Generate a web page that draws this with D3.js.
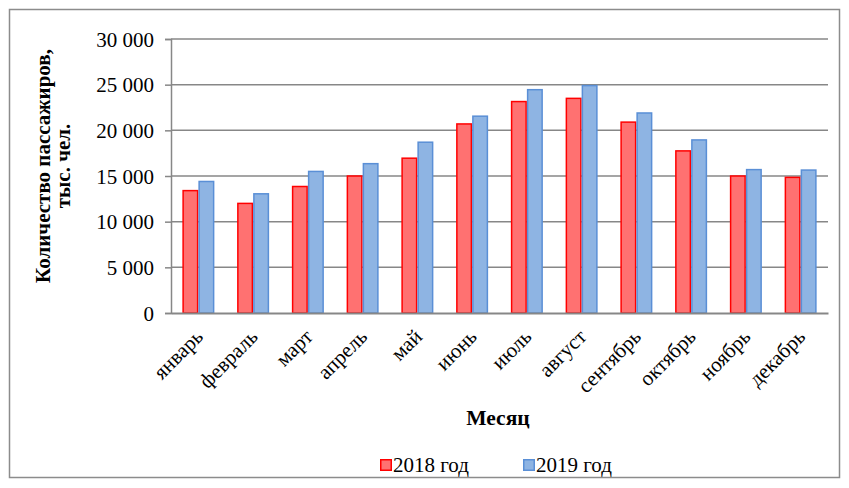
<!DOCTYPE html>
<html>
<head>
<meta charset="utf-8">
<script src="https://cdn.jsdelivr.net/npm/d3@7/dist/d3.min.js"></script>
<style>
  html, body { margin: 0; padding: 0; background: #fff; }
  svg { display: block; font-family: "Liberation Serif", "Times New Roman", serif; }
</style>
</head>
<body>
<svg id="chart" width="849" height="488"></svg>
<script>
// Monthly passenger traffic, thousands of people
const months = ["январь", "февраль", "март", "апрель", "май", "июнь",
                "июль", "август", "сентябрь", "октябрь", "ноябрь", "декабрь"];
const series = ["2018 год", "2019 год"];
const values2018 = [13400, 12000, 13850, 15000, 16950, 20700, 23150, 23500, 20900, 17750, 15000, 14850];
const values2019 = [14400, 13050, 15500, 16350, 18700, 21550, 24450, 24900, 21900, 18950, 15700, 15650];
const yTicks = [0, 5000, 10000, 15000, 20000, 25000, 30000];

const fills = ["#FF7171", "#8EB4E3"];
const strokes = ["#FF0000", "#5A8FD6"];
const gridColor = "#878787";
const fontSize = 21;

const svg = d3.select("#chart");
const plot = { left: 171, right: 828, top: 39, bottom: 313 };

// outer frame
svg.append("rect")
  .attr("x", 9.5).attr("y", 9.5)
  .attr("width", 830).attr("height", 468)
  .attr("fill", "#fff").attr("stroke", "#8c8c8c").attr("stroke-width", 1.5);

const x0 = d3.scaleBand().domain(months)
  .range([plot.left, plot.right])
  .paddingInner(0.415).paddingOuter(0.2075);
const x1 = d3.scaleBand().domain(series).range([0, x0.bandwidth()]);
const y = d3.scaleLinear().domain([0, 30000]).range([plot.bottom, plot.top]);

const fmt = v => d3.format(",")(v).replace(/,/g, " ");

// horizontal grid
svg.append("g")
  .selectAll("line").data(yTicks.filter(t => t > 0)).join("line")
  .attr("x1", plot.left).attr("x2", plot.right)
  .attr("y1", d => y(d)).attr("y2", d => y(d))
  .attr("stroke", gridColor).attr("stroke-width", 1.5);

// y axis
const yAxis = svg.append("g")
  .attr("transform", `translate(${plot.left},0)`)
  .call(d3.axisLeft(y).tickValues(yTicks).tickFormat(fmt).tickSize(6).tickPadding(11));
yAxis.select(".domain").attr("stroke", gridColor).attr("stroke-width", 1.5);
yAxis.selectAll(".tick line").attr("stroke", gridColor).attr("stroke-width", 1.5);
yAxis.selectAll(".tick text")
  .attr("font-family", "Liberation Serif").attr("font-size", fontSize).attr("fill", "#000")
  .attr("dy", "0.34em");

// bars
const rows = months.map((m, i) => ({ month: m, vals: [values2018[i], values2019[i]] }));
const groups = svg.append("g").selectAll("g").data(rows).join("g")
  .attr("transform", d => `translate(${x0(d.month)},0)`);
groups.selectAll("rect")
  .data(d => d.vals.map((v, k) => ({ key: series[k], k, v })))
  .join("rect")
  .attr("x", d => x1(d.key) + 0.75)
  .attr("y", d => y(d.v))
  .attr("width", x1.bandwidth() - 1.5)
  .attr("height", d => y(0) - y(d.v))
  .attr("fill", d => fills[d.k])
  .attr("stroke", d => strokes[d.k])
  .attr("stroke-width", 1.5);

// x axis
const xAxis = svg.append("g")
  .attr("transform", `translate(0,${plot.bottom})`)
  .call(d3.axisBottom(x0).tickSize(0).tickPadding(0));
xAxis.select(".domain").attr("stroke", gridColor).attr("stroke-width", 2);
xAxis.selectAll(".tick text")
  .attr("font-family", "Liberation Serif").attr("font-size", fontSize).attr("fill", "#000")
  .attr("text-anchor", "end")
  .attr("dy", null).attr("y", null)
  .attr("transform", "translate(6,25) rotate(-45)");

// axis titles
svg.append("text")
  .attr("x", 498).attr("y", 425)
  .attr("text-anchor", "middle")
  .attr("font-size", 21.5).attr("font-weight", "bold")
  .text("Месяц");

const yTitle = svg.append("text")
  .attr("transform", "translate(50,166) rotate(-90)")
  .attr("text-anchor", "middle")
  .attr("font-size", 21).attr("font-weight", "bold");
yTitle.append("tspan").attr("x", 0).attr("y", 0).text("Количество пассажиров,");
yTitle.append("tspan").attr("x", 0).attr("y", 20).text("тыс. чел.");

// legend
const legendPos = [380, 523];
const legend = svg.append("g").selectAll("g").data(series).join("g")
  .attr("transform", (d, i) => `translate(${legendPos[i]},459)`);
legend.append("rect")
  .attr("x", 0.75).attr("y", 0.75).attr("width", 10.5).attr("height", 10.5)
  .attr("fill", (d, i) => fills[i]).attr("stroke", (d, i) => strokes[i]).attr("stroke-width", 1.5);
legend.append("text")
  .attr("x", 13).attr("y", 13)
  .attr("font-size", fontSize).attr("fill", "#000")
  .text(d => d);
</script>
</body>
</html>
